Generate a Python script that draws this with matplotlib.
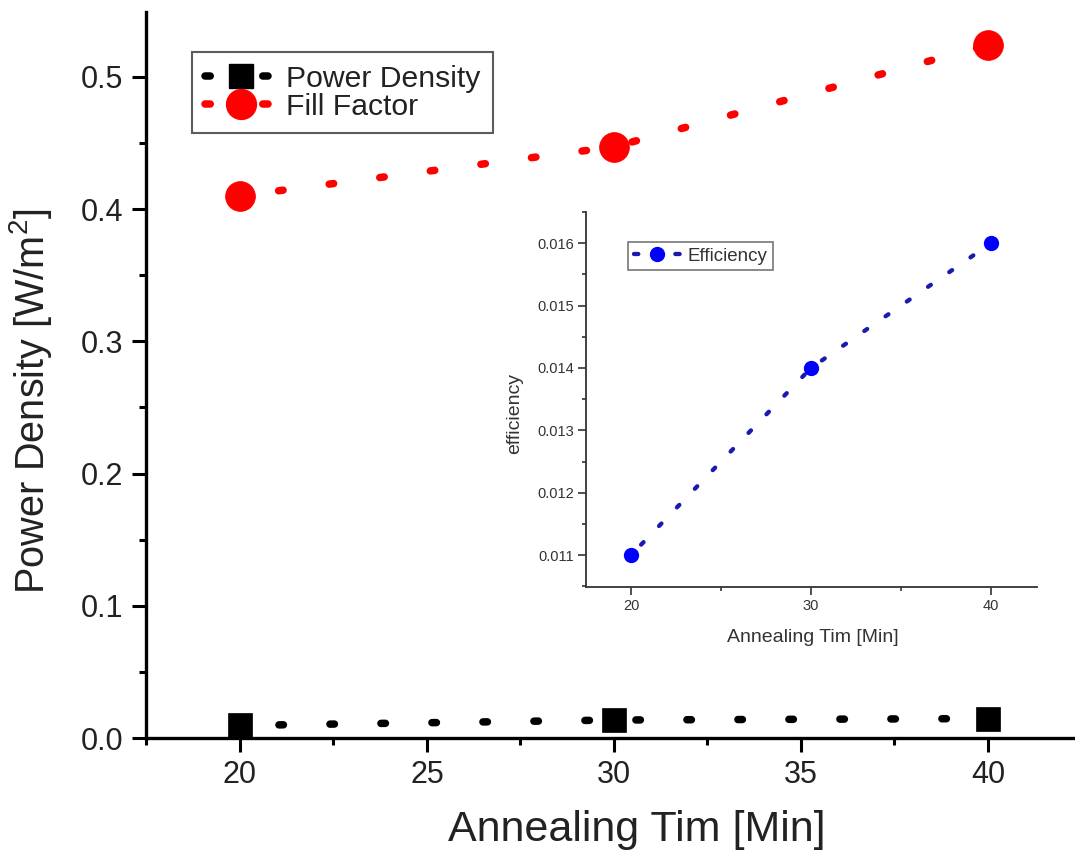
import matplotlib
matplotlib.use("Agg")
import matplotlib.pyplot as plt
from matplotlib.lines import Line2D
from matplotlib.ticker import MultipleLocator

plt.rcParams['font.family'] = ['Liberation Sans', 'DejaVu Sans']
plt.rcParams['mathtext.fontset'] = 'custom'
plt.rcParams['mathtext.rm'] = 'Liberation Sans'
plt.rcParams['mathtext.it'] = 'Liberation Sans:italic'

# ---- data ----
anneal_time = [20, 30, 40]
power_density = [0.0095, 0.0136, 0.0147]
fill_factor = [0.410, 0.447, 0.524]
efficiency = [0.011, 0.014, 0.016]

main_xticks = [20, 25, 30, 35, 40]
main_yticks = [0.0, 0.1, 0.2, 0.3, 0.4, 0.5]
inset_xticks = [20, 30, 40]
inset_yticks = [0.011, 0.012, 0.013, 0.014, 0.015, 0.016]

W, H = 1075, 856
fig = plt.figure(figsize=(W / 100, H / 100), dpi=100)

# main axes
ax = fig.add_axes([145.7 / W, (H - 738) / H, (W - 145.7) / W, (738 - 12) / H])
ax.set_xlim(17.48, 42.33)
ax.set_ylim(0, 0.549)
for s in ['top', 'right']:
    ax.spines[s].set_visible(False)
for s in ['left', 'bottom']:
    ax.spines[s].set_linewidth(2.4)

main_lw = 5.4
main_ls = (1.6, (0.6, 6.2))
ax.plot(anneal_time, power_density, color='black', lw=main_lw,
        linestyle=main_ls, dash_capstyle='round',
        marker='s', markersize=17, markerfacecolor='black',
        markeredgecolor='black', markeredgewidth=0.5, clip_on=False, zorder=3)
ax.plot(anneal_time, fill_factor, color='#ff0000', lw=main_lw,
        linestyle=main_ls, dash_capstyle='round',
        marker='o', markersize=21.5, markerfacecolor='#ff0000',
        markeredgecolor='#ff0000', markeredgewidth=0.5, clip_on=False, zorder=3)

ax.set_xticks(main_xticks)
ax.set_yticks(main_yticks)
ax.set_yticklabels([f"{v:.1f}" for v in main_yticks])
ax.xaxis.set_minor_locator(MultipleLocator(2.5))
ax.yaxis.set_minor_locator(MultipleLocator(0.05))
ax.tick_params(which='major', direction='out', length=10, width=2.2,
               labelsize=22, pad=6, colors='black', labelcolor='#222222')
ax.tick_params(which='minor', direction='out', length=5, width=2.2)

ax.set_xlabel('Annealing Tim [Min]', fontsize=31, color='#222222')
ax.xaxis.set_label_coords(0.528, -0.127)
ax.xaxis.label.set_va('center')
ax.set_ylabel(r'Power Density [W/m$^2$]', fontsize=28.5, color='#222222')
ax.yaxis.set_label_coords(-0.1245, 0.464)
ax.yaxis.label.set_va('center')

h1 = Line2D([0], [0], color='black', lw=main_lw, linestyle=(0, (0.7, 7.0)),
            dash_capstyle='round', marker='s', markersize=17,
            markerfacecolor='black', markeredgecolor='black')
h2 = Line2D([0], [0], color='#ff0000', lw=main_lw, linestyle=(0, (0.7, 7.0)),
            dash_capstyle='round', marker='o', markersize=21.5,
            markerfacecolor='#ff0000', markeredgecolor='#ff0000')
leg = ax.legend([h1, h2], ['Power Density', 'Fill Factor'],
                loc='upper left', bbox_to_anchor=(0.0498, 0.945),
                borderaxespad=0, fontsize=21.7, handlelength=2.4,
                handletextpad=0.3, labelspacing=0.0, borderpad=0.42,
                frameon=True, fancybox=False, edgecolor='#333333')
leg.get_frame().set_linewidth(1.5)
for t in leg.get_texts():
    t.set_color('#222222')

# inset axes
ix0, ix1, iy0, iy1 = 586, 1037, 587, 212
ax2 = fig.add_axes([ix0 / W, (H - iy0) / H, (ix1 - ix0) / W, (iy0 - iy1) / H])
ax2.set_xlim(17.5, 42.56)
ax2.set_ylim(0.01049, 0.0165)
for s in ['top', 'right']:
    ax2.spines[s].set_visible(False)
for s in ['left', 'bottom']:
    ax2.spines[s].set_linewidth(1.3)
    ax2.spines[s].set_color('#333333')
ax2.patch.set_alpha(0)

ax2.plot(anneal_time, efficiency, color='#1a1ab0', lw=3.1,
         linestyle=(2.6, (0.8, 5.2)), dash_capstyle='round',
         marker='o', markersize=10, markerfacecolor='#0000ff',
         markeredgecolor='#0000ff', clip_on=False, zorder=3)
ax2.set_xticks(inset_xticks)
ax2.set_yticks(inset_yticks)
ax2.set_yticklabels([f"{v:.3f}" for v in inset_yticks])
ax2.xaxis.set_minor_locator(MultipleLocator(5))
ax2.yaxis.set_minor_locator(MultipleLocator(0.0005))
ax2.tick_params(which='major', direction='out', length=5.5, width=1.2,
                labelsize=10.5, pad=3, colors='#333333', labelcolor='#333333')
ax2.tick_params(which='minor', direction='out', length=3, width=1.2,
                colors='#333333')
ax2.set_xlabel('Annealing Tim [Min]', fontsize=14, color='#333333')
ax2.xaxis.set_label_coords(0.502, -0.136)
ax2.xaxis.label.set_va('center')
ax2.set_ylabel('efficiency', fontsize=14, color='#333333')
ax2.yaxis.set_label_coords(-0.158, 0.464)
ax2.yaxis.label.set_va('center')

h3 = Line2D([0], [0], color='#1a1ab0', lw=3.1, linestyle=(0, (1.0, 8.6)),
            dash_capstyle='round', marker='o', markersize=10,
            markerfacecolor='#0000ff', markeredgecolor='#0000ff')
leg2 = ax2.legend([h3], ['Efficiency'], loc='upper left',
                  bbox_to_anchor=(0.093, 0.92), borderaxespad=0,
                  fontsize=13.5, handlelength=2.5, handletextpad=0.35,
                  borderpad=0.3, frameon=True, fancybox=False,
                  edgecolor='#555555')
leg2.get_frame().set_linewidth(1.2)
for t in leg2.get_texts():
    t.set_color('#333333')

fig.savefig('out.png', dpi=100)
